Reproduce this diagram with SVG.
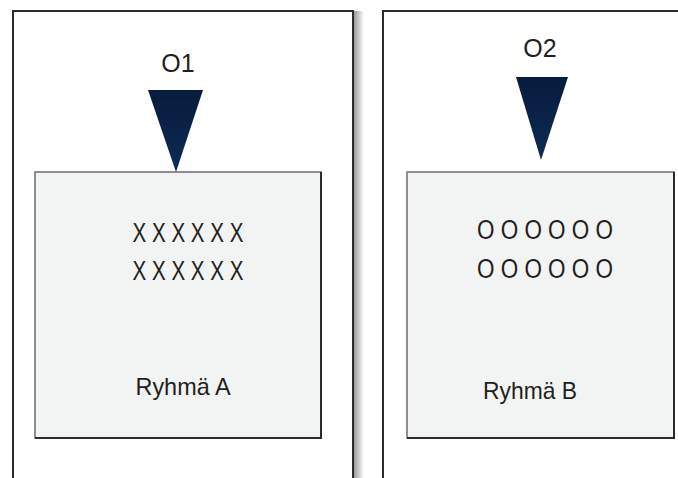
<svg xmlns="http://www.w3.org/2000/svg" width="678" height="478" viewBox="0 0 678 478">
  <defs>
    <linearGradient id="tri" x1="0" y1="0" x2="0" y2="1">
      <stop offset="0" stop-color="#081c3c"/>
      <stop offset="1" stop-color="#0d2a55"/>
    </linearGradient>
    <linearGradient id="shadow" x1="0" y1="0" x2="1" y2="0">
      <stop offset="0" stop-color="#9a9a9a"/>
      <stop offset="1" stop-color="#ffffff"/>
    </linearGradient>
  </defs>
  <style>
    .outer { fill: none; stroke: #2b2b2b; stroke-width: 2; }
    .inner { fill: #f2f3f3; stroke: #6e6e6e; stroke-width: 1.5; }
    .edge { fill: none; stroke: #2a2a2a; stroke-width: 2; }
    .tri { fill: url(#tri); }
    text { font-family: "Liberation Sans", Arial, sans-serif; fill: #231f20; text-anchor: middle; }
    .lbl { font-size: 25px; }
    .row { font-size: 27px; }
    .grp { font-size: 24px; }
  </style>
  <rect x="0" y="0" width="678" height="478" fill="#ffffff"/>

  <g id="panelA">
    <rect x="354" y="11" width="10" height="467" fill="url(#shadow)"/>
    <path class="outer" d="M13,478 V11 H353 V478"/>
    <rect class="inner" x="35" y="172" width="286" height="266"/>
    <path class="edge" d="M35,438 H321 V172"/>
    <text class="row" x="188" y="242" textLength="111" lengthAdjust="spacingAndGlyphs">X X X X X X</text>
    <text class="row" x="188" y="280" textLength="111" lengthAdjust="spacingAndGlyphs">X X X X X X</text>
    <text class="grp" x="183" y="395" textLength="95" lengthAdjust="spacingAndGlyphs">Ryhmä A</text>
  </g>

  <g id="panelB">
    <path class="outer" d="M383,478 V11 H678"/>
    <rect class="inner" x="407" y="172" width="267" height="266"/>
    <path class="edge" d="M407,438 H674 V172"/>
    <text class="row" x="545" y="239" textLength="136" lengthAdjust="spacingAndGlyphs">O O O O O O</text>
    <text class="row" x="545" y="278" textLength="136" lengthAdjust="spacingAndGlyphs">O O O O O O</text>
    <text class="grp" x="530" y="399" textLength="94" lengthAdjust="spacingAndGlyphs">Ryhmä B</text>
  </g>

  <g id="O1">
    <text class="lbl" x="178" y="72">O1</text>
    <polygon class="tri" points="148,90 203,90 176,172"/>
  </g>

  <g id="O2">
    <text class="lbl" x="540" y="57">O2</text>
    <polygon class="tri" points="516,77 568,77 541,160"/>
  </g>

  <g id="connectors"/>
</svg>
